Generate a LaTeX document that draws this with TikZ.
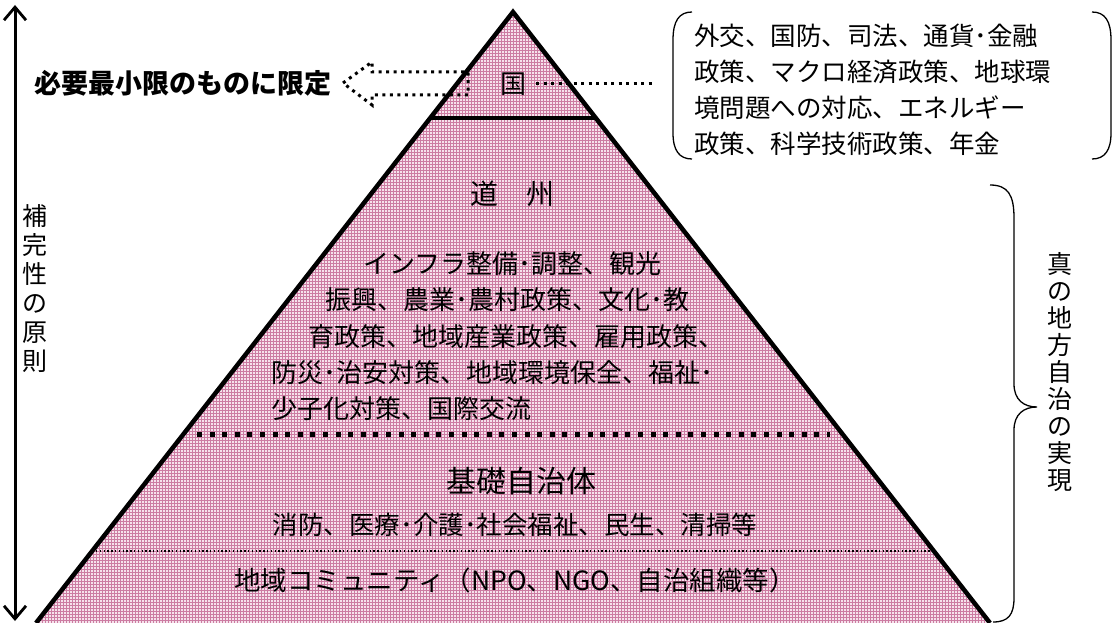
\documentclass[tikz,border=0pt]{standalone}
\usepackage{fontspec}
\setmainfont{Noto Sans CJK JP}
\usetikzlibrary{patterns,calc,arrows.meta}
\definecolor{pinkbase}{RGB}{246,226,236}
\definecolor{pinkgrid}{RGB}{204,124,162}
\tikzset{
  txt/.style={inner sep=0pt, outer sep=0pt},
  fs/.style={font=\fontsize{#1}{#1}\selectfont},
  edge/.style={line width=4.5pt, line join=miter},
  bigdots/.style={line width=5pt, dash pattern=on 5pt off 7.6pt},
  smalldots/.style={line width=1.5pt, dash pattern=on 1.5pt off 2.3pt},
  middots/.style={line width=3pt, dash pattern=on 3pt off 4.5pt},
  bracketline/.style={line width=1.3pt},
  dblarrow/.style={line width=3pt, >={Straight Barb[length=13pt,width=22pt,line width=2.8pt]}, <->},
}
\begin{document}
\begin{tikzpicture}[x=1pt,y=-1pt]
\useasboundingbox (0,0) rectangle (1115,623);
% pyramid
\coordinate (A) at (513,12);
\coordinate (BL) at (36,623);
\coordinate (BR) at (990,623);
\fill[pinkbase] (A)--(BL)--(BR)--cycle;
\fill[pattern=grid, pattern color=pinkgrid] (A)--(BL)--(BR)--cycle;
\draw[edge] (BL)--(A)--(BR);
% line under 国
\coordinate (g1) at ($(A)!0.1735!(BL)$);
\coordinate (g2) at ($(A)!0.1735!(BR)$);
\draw[line width=3.5pt] (g1)--(g2);
% bold dotted line
\coordinate (d1) at (197,434);
\coordinate (d2) at (830,434);
\draw[bigdots] (d1)--(d2);
% thin dotted line
\coordinate (t1) at ($(A)!0.8822!(BL)$);
\coordinate (t2) at ($(A)!0.8822!(BR)$);
\draw[smalldots] (t1)--(t2);
% left double arrow
\coordinate (up) at (15,5);
\coordinate (dn) at (15,621);
\draw[dblarrow] (up)--(dn);
\node[txt, align=center, font=\fontsize{25}{29}\selectfont] (hokan) at (35,289) {補\\完\\性\\の\\原\\則};
% top row
\node[txt, anchor=west, font=\fontsize{27}{27}\selectfont\bfseries] (limit) at (34,83) {必要最小限のものに限定};
\node[txt, fs=26] (guo) at (513,84) {国};
\draw[middots] (343,83)--(372,62)--(372,72)--(468,72)--(468,95)--(372,95)--(372,105)--cycle;
\node[txt, anchor=north west, align=left, font=\fontsize{25.5}{36}\selectfont] (natl) at (694,24) {外交、国防、司法、通貨･金融\\政策、マクロ経済政策、地球環\\境問題への対応、エネルギー\\政策、科学技術政策、年金};
\coordinate (bkl) at (656,84);
\draw[middots] ([xshift=10pt]guo.east)--(bkl);
\draw[bracketline] (692,12) .. controls (679,12) and (673,21) .. (673,40) -- (673,133) .. controls (673,150) and (679,159) .. (692,159);
\draw[bracketline] (1092,12) .. controls (1105,12) and (1111,21) .. (1111,40) -- (1111,133) .. controls (1111,150) and (1105,159) .. (1092,159);
% 道州
\node[txt, fs=28] (doshu) at (512,194) {道　州};
\node[txt, fs=26, anchor=west] (l1) at (363,264) {インフラ整備･調整、観光};
\node[txt, fs=26, anchor=west] (l2) at (325,300) {振興、農業･農村政策、文化･教};
\node[txt, fs=26, anchor=west] (l3) at (308,337) {育政策、地域産業政策、雇用政策、};
\node[txt, fs=26, anchor=west] (l4) at (271,373) {防災･治安対策、地域環境保全、福祉･};
\node[txt, fs=26, anchor=west] (l5) at (271,409) {少子化対策、国際交流};
% 基礎自治体
\node[txt, fs=30] (kiso) at (521,481) {基礎自治体};
\node[txt, fs=25.5] (shobo) at (515,525) {消防、医療･介護･社会福祉、民生、清掃等};
\node[txt, fs=26.5] (comm) at (515,580) {地域コミュニティ（NPO、NGO、自治組織等）};
% right brace
\draw[bracketline] (990,185) .. controls (1008,185) and (1014,195) .. (1014,218) -- (1014,384) .. controls (1014,400) and (1024,407) .. (1037,407) .. controls (1024,407) and (1014,414) .. (1014,430) -- (1014,598) .. controls (1014,615) and (1008,622) .. (993,622);
\node[txt, align=center, font=\fontsize{25}{27}\selectfont] (shin) at (1060,372) {真\\の\\地\\方\\自\\治\\の\\実\\現};
\end{tikzpicture}
\end{document}
